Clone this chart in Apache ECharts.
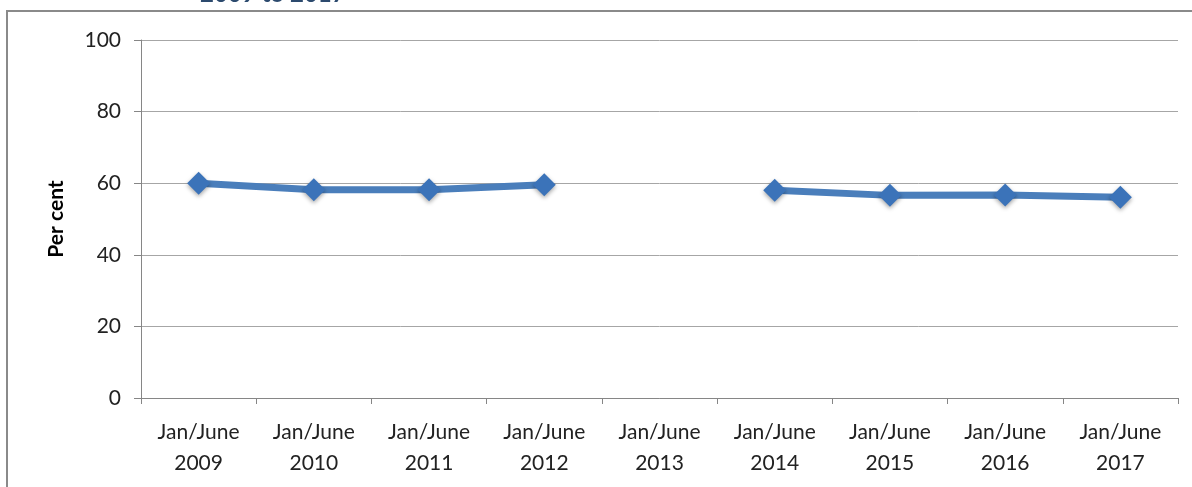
<!DOCTYPE html>
<html><head><meta charset="utf-8">
<script src="https://cdn.jsdelivr.net/npm/echarts@6/dist/echarts.min.js"></script>
<style>html,body{margin:0;padding:0;background:#fff}#c{width:1192px;height:487px}</style>
</head><body><div id="c"></div>
<script>
const categories = ['Jan/June\n2009','Jan/June\n2010','Jan/June\n2011','Jan/June\n2012','Jan/June\n2013','Jan/June\n2014','Jan/June\n2015','Jan/June\n2016','Jan/June\n2017'];
const perCent = [60.0, 58.2, 58.2, 59.6, null, 58.0, 56.6, 56.7, 56.1];
const yTicks = [0, 20, 40, 60, 80, 100];
const titleText = '2009 to 2017';
const yName = 'Per cent';

const FONT = 'Lato, "Open Sans", sans-serif';
const chart = echarts.init(document.getElementById('c'));
chart.setOption({
  animation: false,
  backgroundColor: '#fff',
  graphic: [
    {type: 'rect', shape: {x: 7, y: 11, width: 1400, height: 700}, style: {fill: 'none', stroke: '#8a8a8a', lineWidth: 2}, z: -1},
    {type: 'text', left: 200, top: -18, style: {text: titleText, font: 'bold 24px ' + FONT, fill: '#2c4a6e'}}
  ],
  grid: {left: 141, right: 14, top: 40, bottom: 89, containLabel: false},
  xAxis: {
    type: 'category', data: categories, boundaryGap: true,
    axisLine: {lineStyle: {color: '#868686', width: 1}},
    axisTick: {show: true, alignWithLabel: false, length: 6, lineStyle: {color: '#868686'}},
    axisLabel: {color: '#222', fontFamily: FONT, fontSize: 21, lineHeight: 31, margin: 19, interval: 0}
  },
  yAxis: {
    type: 'value', min: yTicks[0], max: yTicks[yTicks.length-1], interval: 20,
    name: yName, nameLocation: 'middle', nameGap: 74, nameRotate: 90,
    nameTextStyle: {fontFamily: FONT, fontWeight: 'bold', fontSize: 21, color: '#000'},
    axisLine: {show: true, lineStyle: {color: '#868686'}},
    axisTick: {show: true, length: 7, lineStyle: {color: '#868686'}},
    splitLine: {lineStyle: {color: '#a6a6a6', width: 1}},
    axisLabel: {color: '#222', fontFamily: FONT, fontSize: 21, margin: 20}
  },
  series: [{
    type: 'line', data: perCent, connectNulls: false,
    symbol: 'diamond', symbolSize: 23,
    lineStyle: {color: '#4a7ebb', width: 7},
    itemStyle: {color: '#3b73b9', shadowColor: 'rgba(0,0,0,0.35)', shadowBlur: 4, shadowOffsetY: 2}
  }]
});
</script></body></html>
